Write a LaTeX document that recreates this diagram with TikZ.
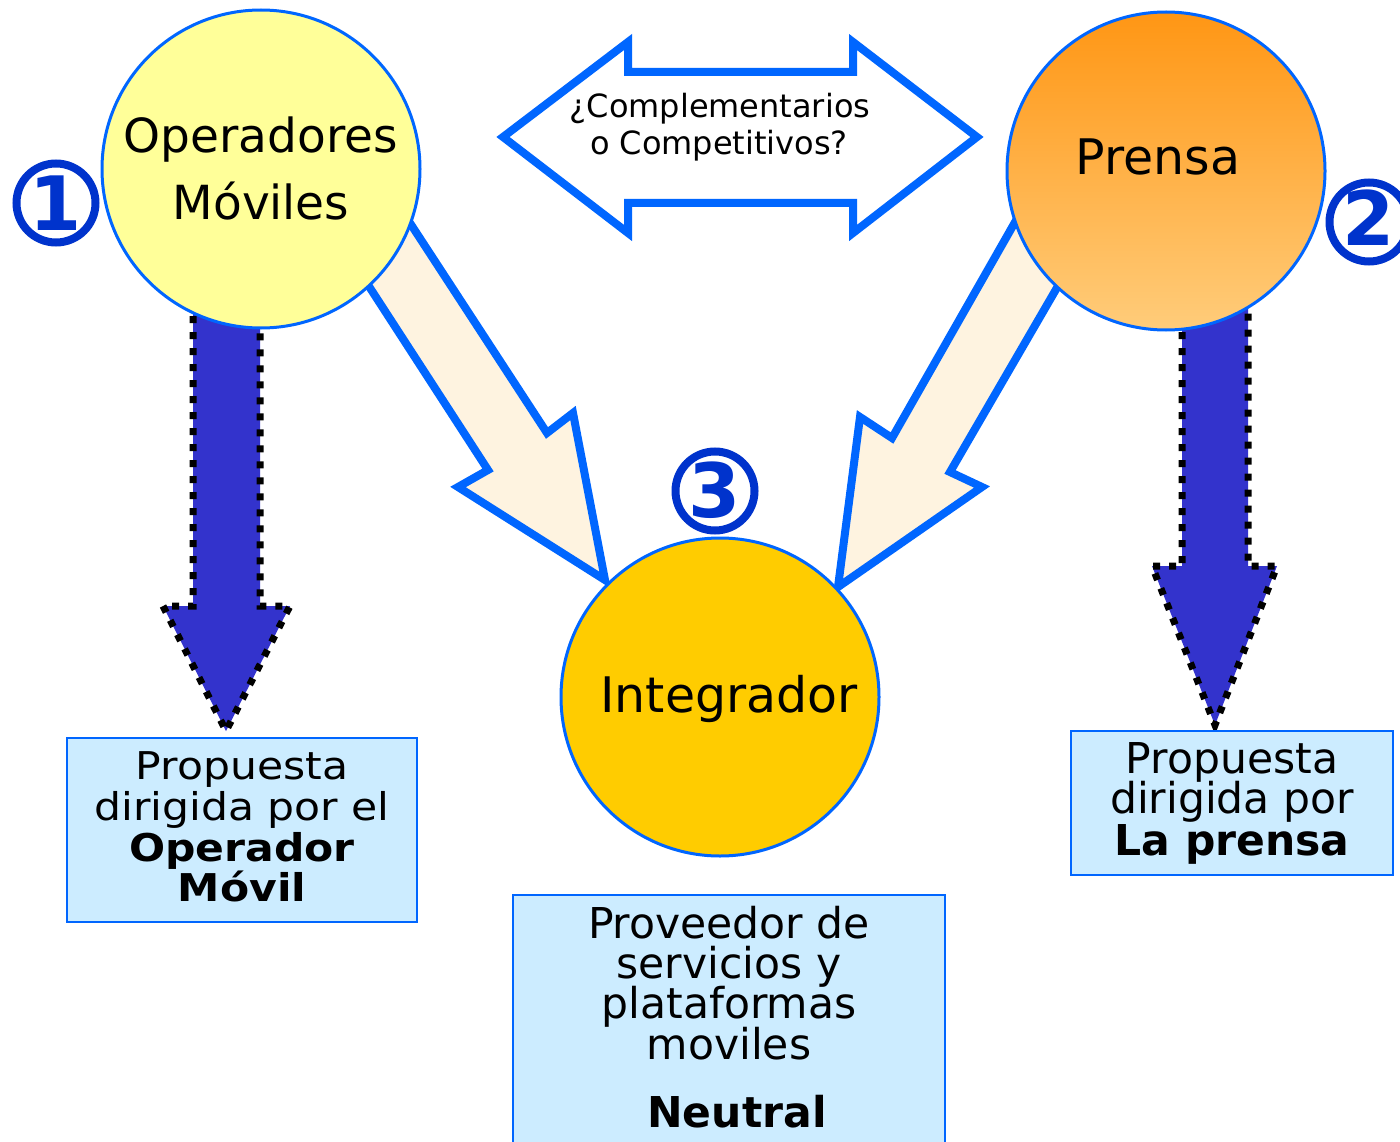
\documentclass[tikz,border=0pt]{standalone}
\usepackage{fontspec}
\setmainfont{DejaVu Sans}
\usepackage{graphicx}
\definecolor{cblue}{RGB}{0,102,255}
\definecolor{numblue}{RGB}{0,51,204}
\definecolor{arrblue}{RGB}{51,51,204}
\definecolor{creamfill}{RGB}{254,243,224}
\definecolor{boxfill}{RGB}{204,236,255}
\definecolor{yelfill}{RGB}{255,255,153}
\definecolor{goldfill}{RGB}{255,204,0}
\definecolor{orTop}{RGB}{255,150,20}
\definecolor{orBot}{RGB}{255,204,122}
\begin{document}
\begin{tikzpicture}[x=1pt,y=-1pt,
  bubble/.style={circle, draw=cblue, line width=3pt, minimum size=318pt, inner sep=0pt},
  bigarrow/.style={draw=cblue, line width=8pt, fill=creamfill, line join=miter, miter limit=12},
  downfill/.style={fill=arrblue},
  downline/.style={draw=black, line width=7pt, dash pattern=on 7pt off 9pt},
  infobox/.style={draw=cblue, line width=2.5pt, fill=boxfill},
  numring/.style={circle, draw=numblue, line width=8pt, minimum size=79pt, inner sep=0pt},
  numdigit/.style={text=numblue, font=\fontsize{75}{75}\selectfont\bfseries, anchor=base, inner sep=0pt},
  ctext/.style={font=\fontsize{47}{50}\selectfont, anchor=base, inner sep=0pt},
  ctextb/.style={font=\fontsize{49}{50}\selectfont, anchor=base, inner sep=0pt},
  atext/.style={font=\fontsize{32}{34}\selectfont, anchor=base, inner sep=0pt},
  btext/.style={font=\fontsize{42.5}{42}\selectfont, anchor=base, inner sep=0pt},
]
\useasboundingbox[fill=white] (0,0) rectangle (1400,1142);

% down arrows (blue, dotted outline)
\fill[downfill] (193,300) -- (193,606) -- (163,606) -- (226,731) -- (290,606) -- (260,606) -- (260,300) -- cycle;
\draw[downline] (193,300) -- (193,606) -- (163,606) -- (226,731) -- (290,606) -- (260,606) -- (260,300);
\fill[downfill] (1182,300) -- (1182,566) -- (1152,566) -- (1215,725) -- (1277,566) -- (1248,566) -- (1248,300) -- cycle;
\draw[downline] (1182,300) -- (1182,566) -- (1152,566) -- (1215,725) -- (1277,566) -- (1248,566) -- (1248,300);

% cream arrows towards Integrador
\draw[bigarrow] (380,177) -- (547,433) -- (573,413) -- (605,580) -- (458,487) -- (488,470) -- (337,237) -- cycle;
\draw[bigarrow] (1043,173) -- (892,438) -- (860,417) -- (838,587) -- (982,487) -- (950,472) -- (1087,236) -- cycle;

% double arrow
\draw[draw=cblue, line width=8pt, fill=white, line join=miter, miter limit=12]
  (503,137) -- (628,42) -- (628,72) -- (853,72) -- (853,42) -- (977,137) -- (853,233) -- (853,203) -- (628,203) -- (628,233) -- cycle;
\node[atext] (q1) at (720,118) {¿Complementarios};
\node[atext] (q2) at (719,155) {o Competitivos?};

% circles
\node[bubble, fill=yelfill] (op) at (261,169) {};
\node[bubble, top color=orTop, bottom color=orBot] (pr) at (1166,171) {};
\node[bubble, fill=goldfill] (in) at (720,697) {};
\node[ctext] (opa) at (261,153) {Operadores};
\node[ctext] (opb) at (261,220) {Móviles};
\node[ctextb] (pra) at (1158,175) {Prensa};
\node[ctextb] (ina) at (729,712) {Integrador};

% boxes
\draw[infobox] (67,738) rectangle (417,922);
\node[btext] (la) at (242,779) {\scalebox{1}[0.9]{Propuesta}};
\node[btext] (lb) at (242,820) {\scalebox{1}[0.9]{dirigida por el}};
\node[btext] (lc) at (242,861) {\scalebox{1}[0.9]{\bfseries Operador}};
\node[btext] (ld) at (242,901) {\scalebox{1}[0.9]{\bfseries Móvil}};

\draw[infobox] (1071,731) rectangle (1393,875);
\node[btext] (ra) at (1232,773) {Propuesta};
\node[btext] (rb) at (1232,813) {dirigida por};
\node[btext] (rc) at (1232,855) {\bfseries La prensa};

\draw[infobox] (513,895) rectangle (945,1160);
\node[btext] (ma) at (729,938) {Proveedor de};
\node[btext] (mb) at (729,978) {servicios y};
\node[btext] (mc) at (729,1018) {plataformas};
\node[btext] (md) at (729,1059) {moviles};
\node[btext] (me) at (737,1127) {\bfseries Neutral};

% numbers
\node[numring] (n1) at (56,203) {};
\node[numdigit] (d1) at (56,231) {1};
\node[numring] (n2) at (1369,222) {};
\node[numdigit] (d2) at (1369,246) {2};
\node[numring] (n3) at (715,491) {};
\node[numdigit] (d3) at (715,517) {3};
\end{tikzpicture}
\end{document}
